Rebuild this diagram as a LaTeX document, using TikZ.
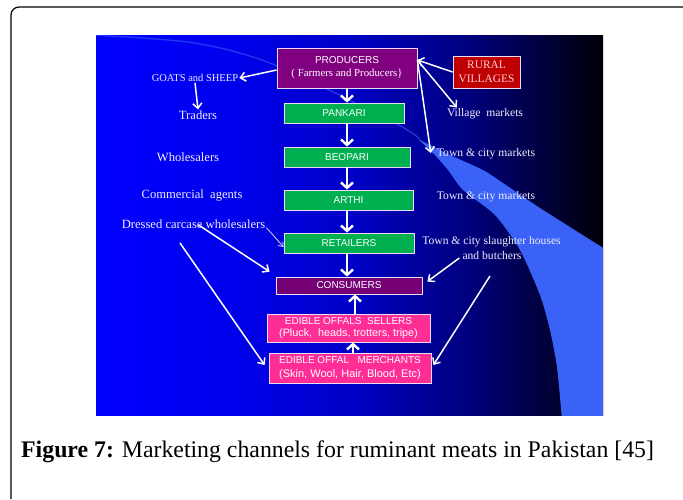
\documentclass[tikz,border=0pt]{standalone}
\usepackage{fontspec}
\setmainfont{Liberation Serif}
\setsansfont{Liberation Sans}
\usetikzlibrary{arrows.meta,calc}
\definecolor{purp}{RGB}{128,0,128}
\definecolor{purpd}{RGB}{118,0,118}
\definecolor{grn}{RGB}{0,176,80}
\definecolor{redb}{RGB}{192,0,0}
\definecolor{pinkb}{RGB}{255,45,150}
\definecolor{bandc}{RGB}{58,98,246}
\definecolor{bgA}{RGB}{0,0,238}
\definecolor{bgB}{RGB}{0,0,200}
\definecolor{bgC}{RGB}{0,0,120}
\definecolor{bgD}{RGB}{0,0,8}
\definecolor{txt}{RGB}{242,238,255}
\definecolor{ruraltxt}{RGB}{255,205,215}
\definecolor{boxline}{RGB}{235,220,245}
\pgfdeclarehorizontalshading{slidebg}{100bp}{color(0bp)=(blue); color(25bp)=(blue); color(37.5bp)=(bgA); color(50bp)=(bgB); color(62.5bp)=(bgC); color(75bp)=(bgD); color(100bp)=(bgD)}
\tikzset{
  box/.style={draw=boxline, line width=0.8pt, text=white, inner sep=1pt, align=center,
    font=\sffamily\fontsize{10}{11}\selectfont},
  lab/.style={text=txt, inner sep=1pt, font=\fontsize{12.6}{13}\selectfont},
  rlab/.style={lab, font=\fontsize{11.6}{12}\selectfont},
  arr/.style={draw=white, line width=1.5pt, -{Straight Barb[length=5pt,width=9pt]}},
  thinarr/.style={draw=white!85!blue, line width=0.8pt, -{Straight Barb[length=4pt,width=6pt]}},
  chainarr/.style={draw=white, line width=2.4pt, -{Straight Barb[length=5.5pt,width=12pt]}},
}
\begin{document}
\begin{tikzpicture}[x=1pt,y=-1pt]
\useasboundingbox (0,0) rectangle (683,499);
\fill[white] (0,0) rectangle (683,499);
% frame
\draw[line width=1.2pt, rounded corners=8pt] (683,7) -- (11,7) -- (11,499);
% slide background
\shade[shading=slidebg] (96,35) rectangle (603,415);
\begin{scope}
\clip (96,35) rectangle (603,415);
\draw[bandc, opacity=0.55, line width=1.4pt] plot[smooth, tension=0.5] coordinates {(92,35) (195,43) (275,65) (393,122) (420,139)};
\fill[bandc] plot[smooth, tension=0.4] coordinates {(418,139) (450,155) (483,170) (500,181) (540,208) (608,251)}
  -- (608,420) -- (562,420)
  -- plot[smooth, tension=0.4] coordinates {(562,420) (557,367) (550,330) (540,295) (520,250) (495,215) (463,190) (448,170) (433,153) (418,139)} -- cycle;
\end{scope}
% boxes
\node[box, fill=purp, minimum width=140pt, minimum height=40pt] (prod) at (347,68)
  {PRODUCERS\\[2pt]{\rmfamily\fontsize{10.8}{12}\selectfont ( Farmers and Producers\}}};
\node[box, fill=redb, minimum width=67pt, minimum height=32pt, text=ruraltxt,
  font=\fontsize{11.4}{13.5}\selectfont] (rural) at (486.5,72) {RURAL\\VILLAGES};
\node[box, fill=grn, minimum width=120pt, minimum height=20pt] (pank) at (344,113) {PANKARI};
\node[box, fill=grn, minimum width=126pt, minimum height=20pt] (beop) at (347,157) {BEOPARI};
\node[box, fill=grn, minimum width=129pt, minimum height=20pt] (arthi) at (348.5,200) {ARTHI};
\node[box, fill=grn, minimum width=130pt, minimum height=20pt] (ret) at (349,243) {RETAILERS};
\node[box, fill=purpd, minimum width=146pt, minimum height=17pt] (cons) at (349,285.5) {CONSUMERS};
\node[box, fill=pinkb, minimum width=163pt, minimum height=28pt, font=\sffamily\fontsize{10}{12.5}\selectfont] (sell) at (348.5,328)
  {EDIBLE OFFALS\ \ SELLERS\\{\fontsize{10.8}{12}\selectfont (Pluck,\ \ heads, trotters, tripe)}};
\node[box, fill=pinkb, minimum width=162pt, minimum height=30pt, font=\sffamily\fontsize{10}{13.5}\selectfont] (merch) at (350,368)
  {EDIBLE OFFAL\ \ \ MERCHANTS\\{\fontsize{11}{12}\selectfont (Skin,\ Wool, Hair,\ Blood,\ Etc)}};
% labels
\node[lab, font=\fontsize{10.5}{11}\selectfont] (goats) at (195,78) {GOATS and SHEEP};
\node[lab] (traders) at (198,115) {Traders};
\node[lab] (whole) at (188,157) {Wholesalers};
\node[lab] (comm) at (192,195) {Commercial\ \ agents};
\node[lab] (dress) at (193.5,224) {Dressed carcase wholesalers};
\node[rlab] (vill) at (485,114) {Village\ \ markets};
\node[rlab] (town1) at (486,154) {Town \& city markets};
\node[rlab] (town2) at (486,197) {Town \& city markets};
\node[rlab] (slaught) at (491.5,242) {Town \& city slaughter houses};
\node[rlab] (butch) at (492,256) {and butchers};
\coordinate (d2) at (180,243);
\coordinate (s2) at (490,276);
% arrows
\draw[arr] ([yshift=-2pt]prod.west) -- (goats.east);
\draw[arr] (goats.south) -- (traders.north);
\draw[chainarr] (prod.south) -- (prod.south |- pank.north);
\draw[chainarr] (prod.south |- pank.south) -- (prod.south |- beop.north);
\draw[chainarr] (prod.south |- beop.south) -- (prod.south |- arthi.north);
\draw[chainarr] (prod.south |- arthi.south) -- (prod.south |- ret.north);
\draw[chainarr] (prod.south |- ret.south) -- (prod.south |- cons.north);
\draw[arr] (rural.west) -- ([yshift=8pt]prod.east);
\draw[arr] ([yshift=8pt]prod.east) -- ([xshift=11pt]vill.north west);
\draw[arr] ([yshift=8pt]prod.east) -- ([xshift=-5pt,yshift=1pt]town1.west);
\draw[arr] ([xshift=5pt,yshift=-1pt]dress.center) -- ([xshift=-6pt,yshift=5pt]cons.north west);
\draw[thinarr] ([yshift=2pt]dress.south east) -- ([yshift=-4pt]ret.west);
\draw[arr] (d2) -- ([xshift=-4pt,yshift=3pt]merch.west);
\draw[arr] ([xshift=-2pt,yshift=-2pt]butch.west) -- ([xshift=5pt,yshift=4pt]cons.east);
\draw[arr] (s2) -- ([xshift=2pt,yshift=3pt]merch.east);
\draw[chainarr] ([xshift=6.5pt]sell.north) -- ([xshift=6.5pt]sell.north |- cons.south);
\draw[chainarr] ([xshift=3pt]merch.north) -- ([xshift=3pt]merch.north |- sell.south);
% caption
\node[anchor=west, inner sep=0pt, font=\fontsize{23.8}{26}\selectfont] (cap) at (21,452)
  {\textbf{Figure 7:} Marketing channels for ruminant meats in Pakistan [45]};
\end{tikzpicture}
\end{document}
